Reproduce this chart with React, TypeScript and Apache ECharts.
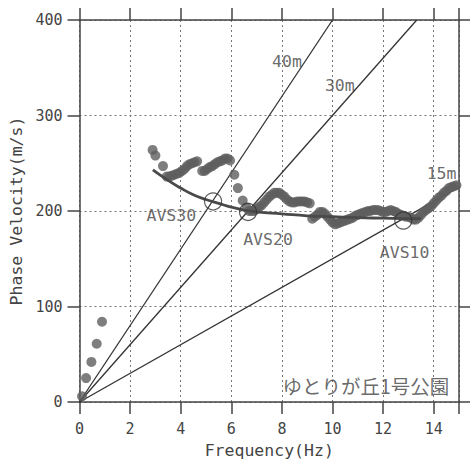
import React, { useEffect, useRef } from "react";
import * as echarts from "echarts";

// Measured phase velocity (frequency Hz, velocity m/s)
const lowDots: number[][] = [
  [0.1, 6], [0.26, 25], [0.47, 42], [0.68, 61], [0.89, 84],
];
const cluster1: number[][] = [
  [2.89, 264], [3.0, 258], [3.3, 247], [3.45, 236], [3.55, 236], [3.65, 237], [3.75, 238],
  [3.85, 239], [3.95, 240], [4.05, 242], [4.15, 244], [4.25, 247], [4.35, 249], [4.45, 250],
  [4.55, 251], [4.65, 252],
];
const cluster2: number[][] = [
  [4.85, 242], [4.95, 242], [5.05, 244], [5.15, 246], [5.25, 247], [5.35, 249], [5.45, 251],
  [5.55, 252], [5.65, 253], [5.75, 255], [5.85, 255], [5.95, 253], [6.12, 238], [6.26, 224],
  [6.45, 211], [6.6, 204],
];
const cluster3: number[][] = [
  [6.7, 200], [6.8, 200], [6.9, 200], [7.0, 202], [7.1, 204], [7.2, 206], [7.3, 209],
  [7.4, 212], [7.5, 215], [7.6, 217], [7.7, 219], [7.8, 219], [7.9, 219], [8.0, 217],
  [8.1, 215], [8.2, 212], [8.3, 210], [8.4, 209], [8.5, 209], [8.6, 210], [8.7, 210],
  [8.8, 210], [8.9, 210], [9.0, 209], [9.1, 208],
];
const cluster4: number[][] = [
  [9.2, 192], [9.3, 194], [9.4, 196], [9.5, 199], [9.6, 199], [9.7, 197], [9.8, 194],
  [9.9, 191], [10.0, 188], [10.1, 186], [10.2, 187], [10.3, 188], [10.4, 189], [10.5, 190],
  [10.6, 191], [10.7, 192], [10.8, 193], [10.9, 195], [11.0, 196], [11.1, 197], [11.2, 198],
  [11.3, 199], [11.4, 200], [11.5, 200], [11.6, 201], [11.7, 201], [11.8, 201], [11.9, 200],
  [12.0, 199], [12.1, 199], [12.2, 200], [12.3, 201], [12.4, 200], [12.5, 199], [12.6, 197],
  [12.7, 196], [12.8, 195], [12.9, 194], [13.0, 194], [13.1, 193], [13.2, 191], [13.3, 191],
  [13.4, 193], [13.5, 196], [13.6, 199], [13.7, 201], [13.8, 203], [13.9, 205], [14.0, 208],
  [14.1, 211], [14.2, 214], [14.3, 216], [14.4, 219], [14.5, 221], [14.6, 224], [14.7, 225],
  [14.8, 226], [14.9, 227],
];

// Smoothed dispersion curve
const fitCurve: number[][] = [
  [2.9, 243], [3.5, 232], [4.0, 224], [4.5, 217], [5.0, 212], [5.5, 208], [6.0, 204],
  [6.5, 201], [7.0, 199], [8.0, 197], [9.0, 195], [10.0, 194], [11.0, 193], [12.0, 192.5],
  [13.0, 192], [13.5, 192],
];

// Depth lines
const line40: number[][] = [[0, 0], [10, 400]];
const line30: number[][] = [[0, 0], [13.33, 400]];
const line15: number[][] = [[0, 0], [15, 225]];

// AVS intersection points
const avsPoints: number[][] = [[5.28, 210], [6.66, 199], [12.8, 190]];

// Text annotations [f, v, text]
const annotations: [number, number, string][] = [
  [8.2, 357, "40m"],
  [10.29, 331, "30m"],
  [14.31, 239, "15m"],
  [3.63, 195, "AVS30"],
  [7.45, 170, "AVS20"],
  [12.85, 157, "AVS10"],
];
const placeLabel: [number, number, string] = [11.32, 17, "ゆとりが丘1号公園"];

const xTicks = [0, 2, 4, 6, 8, 10, 12, 14];
const yTicks = [0, 100, 200, 300, 400];

const MONO = "'DejaVu Sans Mono', 'Noto Sans CJK JP', monospace";
const INK = "#444";

export default function App() {
  const ref = useRef<HTMLDivElement>(null);
  useEffect(() => {
    if (!ref.current) return;
    const chart = echarts.init(ref.current, undefined, { renderer: "svg" });
    const axisLine = { show: true, onZero: false, lineStyle: { color: INK, width: 1.5 } };
    const axisTick = { show: true, length: 12, inside: false, lineStyle: { color: INK, width: 1.5 } };
    const dotSeries = (data: number[][]) => ({
      type: "scatter",
      data,
      symbolSize: 10,
      itemStyle: { color: "#5e5e5e" },
      z: 3,
    });
    const straight = (data: number[][]) => ({
      type: "line",
      data,
      showSymbol: false,
      lineStyle: { color: "#333", width: 1.3 },
      z: 2,
    });
    const dotted = { show: true, lineStyle: { type: [2, 3], color: "#777", width: 1 } };
    chart.setOption({
      animation: false,
      backgroundColor: "#fff",
      grid: { left: 79, right: 11, top: 20, bottom: 65 },
      xAxis: [
        {
          type: "value",
          min: 0,
          max: 15,
          interval: 2,
          position: "bottom",
          axisLine,
          axisTick,
          axisLabel: {
            fontFamily: MONO,
            fontSize: 15,
            color: INK,
            margin: 19,
            formatter: (v: number) => (xTicks.includes(v) ? String(v) : ""),
          },
          splitLine: dotted,
          name: "Frequency(Hz)",
          nameLocation: "middle",
          nameGap: 40,
          nameTextStyle: { fontFamily: MONO, fontSize: 16.5, color: INK },
        },
        {
          type: "value",
          min: 0,
          max: 15,
          interval: 2,
          position: "top",
          axisLine,
          axisTick,
          axisLabel: { show: false },
          splitLine: { show: false },
        },
      ],
      yAxis: [
        {
          type: "value",
          min: 0,
          max: 400,
          interval: 100,
          position: "left",
          axisLine,
          axisTick,
          axisLabel: {
            fontFamily: MONO,
            fontSize: 15,
            color: INK,
            margin: 17,
            formatter: (v: number) => (yTicks.includes(v) ? String(v) : ""),
          },
          splitLine: dotted,
          name: "Phase Velocity(m/s)",
          nameLocation: "middle",
          nameGap: 52,
          nameRotate: 90,
          nameTextStyle: { fontFamily: MONO, fontSize: 16.5, color: INK },
        },
        {
          type: "value",
          min: 0,
          max: 400,
          interval: 100,
          position: "right",
          axisLine,
          axisTick,
          axisLabel: { show: false },
          splitLine: { show: false },
        },
      ],
      series: [
        straight(line40),
        straight(line30),
        straight(line15),
        dotSeries(lowDots),
        dotSeries(cluster1),
        dotSeries(cluster2),
        dotSeries(cluster3),
        dotSeries(cluster4),
        {
          type: "line",
          data: fitCurve,
          smooth: true,
          showSymbol: false,
          lineStyle: { color: "#4a4a4a", width: 2.8 },
          z: 4,
        },
        {
          type: "scatter",
          data: avsPoints,
          symbol: "circle",
          symbolSize: 17,
          itemStyle: { color: "rgba(0,0,0,0)", borderColor: "#333", borderWidth: 1.2 },
          z: 5,
        },
        {
          type: "scatter",
          data: annotations.map((a) => ({ value: [a[0], a[1]], name: a[2] })),
          symbolSize: 0,
          silent: true,
          z: 6,
          label: {
            show: true,
            position: "inside",
            formatter: (p: any) => p.name,
            fontFamily: MONO,
            fontSize: 16.5,
            color: INK,
          },
        },
        {
          type: "scatter",
          data: [{ value: [placeLabel[0], placeLabel[1]], name: placeLabel[2] }],
          symbolSize: 0,
          silent: true,
          z: 6,
          label: {
            show: true,
            position: "inside",
            formatter: (p: any) => p.name,
            fontFamily: "'Noto Sans CJK JP', sans-serif",
            fontSize: 19.5,
            color: INK,
          },
        },
      ],
    });
    return () => chart.dispose();
  }, []);
  return (
    <div
      ref={ref}
      style={{ position: "absolute", left: 0, top: 0, width: 470, height: 467 }}
    />
  );
}
